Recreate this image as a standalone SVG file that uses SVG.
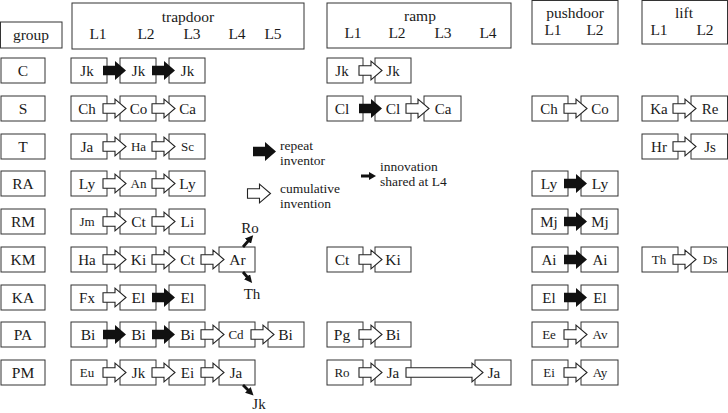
<svg xmlns="http://www.w3.org/2000/svg" xmlns:xlink="http://www.w3.org/1999/xlink" width="728" height="413" viewBox="0 0 728 413">
<style>
text{font-family:"Liberation Serif","Times New Roman",serif;fill:#1a1a1a;text-anchor:middle}
.h{font-size:15.5px}
.n{font-size:15px}
.s{font-size:13px}
.lg{font-size:13.5px;text-anchor:start}
rect{fill:#fff;stroke:#333;stroke-width:1}
.rep{fill:#111}
.cum{fill:#fff;stroke:#222;stroke-width:1.1}
.diag{stroke:#111;stroke-width:2.8;fill:none}
</style>
<defs>
<path id="ar" d="M0,-4.8 H12 V-9.4 L23,0 L12,9.4 V4.8 H0 Z"/>
<path id="arL" d="M0,-4.8 H66 V-9.4 L77,0 L66,9.4 V4.8 H0 Z"/>
<marker id="ah" viewBox="0 0 10 10" refX="2" refY="5" markerWidth="8" markerHeight="8" orient="auto" markerUnits="userSpaceOnUse"><path d="M0,0 L10,5 L0,10 Z" fill="#111"/></marker>
</defs>

<!-- headers -->
<g id="hdr-group"><rect x="0.5" y="22" width="61.5" height="26"/><text class="h" x="31" y="40">group</text></g>
<g id="hdr-trapdoor"><rect x="72" y="3" width="232" height="46"/><text class="h" x="188" y="22">trapdoor</text>
<text class="h" x="98" y="39">L1</text><text class="h" x="146" y="39">L2</text><text class="h" x="192" y="39">L3</text><text class="h" x="237" y="39">L4</text><text class="h" x="273" y="39">L5</text></g>
<g id="hdr-ramp"><rect x="327" y="3" width="184" height="45"/><text class="h" x="420" y="21">ramp</text>
<text class="h" x="353" y="38">L1</text><text class="h" x="397" y="38">L2</text><text class="h" x="443" y="38">L3</text><text class="h" x="488" y="38">L4</text></g>
<g id="hdr-pushdoor"><rect x="532" y="0.5" width="86" height="43.5"/><text class="h" x="575" y="18">pushdoor</text>
<text class="h" x="553" y="35">L1</text><text class="h" x="595" y="35">L2</text></g>
<g id="hdr-lift"><rect x="642" y="0.5" width="85.5" height="43.5"/><text class="h" x="684" y="18">lift</text>
<text class="h" x="659" y="35">L1</text><text class="h" x="705" y="35">L2</text></g>

<!-- group labels -->
<g id="grp-C"><rect x="1" y="58" width="44" height="25"/><text class="h" x="23" y="76">C</text></g>
<g id="grp-S"><rect x="1" y="96" width="44" height="25"/><text class="h" x="23" y="114">S</text></g>
<g id="grp-T"><rect x="1" y="134" width="44" height="25"/><text class="h" x="23" y="152">T</text></g>
<g id="grp-RA"><rect x="1" y="171" width="44" height="25"/><text class="h" x="23" y="189">RA</text></g>
<g id="grp-RM"><rect x="1" y="209" width="44" height="25"/><text class="h" x="23" y="227">RM</text></g>
<g id="grp-KM"><rect x="1" y="247" width="44" height="25"/><text class="h" x="23" y="265">KM</text></g>
<g id="grp-KA"><rect x="1" y="285" width="44" height="25"/><text class="h" x="23" y="303">KA</text></g>
<g id="grp-PA"><rect x="1" y="322" width="44" height="25"/><text class="h" x="23" y="340">PA</text></g>
<g id="grp-PM"><rect x="1" y="360" width="44" height="25"/><text class="h" x="23" y="378">PM</text></g>

<!-- trapdoor nodes -->
<g id="td-C1"><rect x="71" y="58" width="36" height="25"/><text class="n" x="87" y="75.5">Jk</text></g>
<g id="td-C2"><rect x="120" y="58" width="36" height="25"/><text class="n" x="138.5" y="75.5">Jk</text></g>
<g id="td-C3"><rect x="169" y="58" width="36" height="25"/><text class="n" x="187.5" y="75.5">Jk</text></g>

<g id="td-S1"><rect x="71" y="96" width="36" height="25"/><text class="n" x="87" y="113.5">Ch</text></g>
<g id="td-S2"><rect x="120" y="96" width="36" height="25"/><text class="n" x="138.5" y="113.5">Co</text></g>
<g id="td-S3"><rect x="169" y="96" width="36" height="25"/><text class="n" x="187.5" y="113.5">Ca</text></g>

<g id="td-T1"><rect x="71" y="134" width="36" height="25"/><text class="n" x="87" y="151.5">Ja</text></g>
<g id="td-T2"><rect x="120" y="134" width="36" height="25"/><text class="s" x="138.5" y="151">Ha</text></g>
<g id="td-T3"><rect x="169" y="134" width="36" height="25"/><text class="s" x="187.5" y="151">Sc</text></g>

<g id="td-RA1"><rect x="71" y="171" width="36" height="25"/><text class="h" x="87" y="188.5">Ly</text></g>
<g id="td-RA2"><rect x="120" y="171" width="36" height="25"/><text class="s" x="138.5" y="188">An</text></g>
<g id="td-RA3"><rect x="169" y="171" width="36" height="25"/><text class="h" x="187.5" y="188.5">Ly</text></g>

<g id="td-RM1"><rect x="71" y="209" width="36" height="25"/><text class="s" x="87" y="226">Jm</text></g>
<g id="td-RM2"><rect x="120" y="209" width="36" height="25"/><text class="h" x="138.5" y="226.5">Ct</text></g>
<g id="td-RM3"><rect x="169" y="209" width="36" height="25"/><text class="h" x="187.5" y="226.5">Li</text></g>

<g id="td-KM1"><rect x="71" y="247" width="36" height="25"/><text class="n" x="87" y="264.5">Ha</text></g>
<g id="td-KM2"><rect x="120" y="247" width="36" height="25"/><text class="h" x="138.5" y="264.5">Ki</text></g>
<g id="td-KM3"><rect x="169" y="247" width="36" height="25"/><text class="h" x="187.5" y="264.5">Ct</text></g>
<g id="td-KM4"><rect x="219" y="247" width="36" height="25"/><text class="h" x="237.5" y="264.5">Ar</text></g>
<g id="td-Ro"><text class="n" x="250" y="233">Ro</text></g>
<g id="td-Th"><text class="n" x="252" y="299">Th</text></g>

<g id="td-KA1"><rect x="71" y="285" width="36" height="25"/><text class="n" x="87" y="302.5">Fx</text></g>
<g id="td-KA2"><rect x="120" y="285" width="36" height="25"/><text class="h" x="138.5" y="302.5">El</text></g>
<g id="td-KA3"><rect x="169" y="285" width="36" height="25"/><text class="h" x="187.5" y="302.5">El</text></g>

<g id="td-PA1"><rect x="71" y="322" width="36" height="25"/><text class="h" x="88" y="339.5">Bi</text></g>
<g id="td-PA2"><rect x="120" y="322" width="36" height="25"/><text class="h" x="138.5" y="339.5">Bi</text></g>
<g id="td-PA3"><rect x="169" y="322" width="36" height="25"/><text class="h" x="187.5" y="339.5">Bi</text></g>
<g id="td-PA4"><rect x="219" y="322" width="36" height="25"/><text class="s" x="236" y="339">Cd</text></g>
<g id="td-PA5"><rect x="268" y="322" width="36" height="25"/><text class="h" x="285.5" y="339.5">Bi</text></g>

<g id="td-PM1"><rect x="71" y="360" width="36" height="25"/><text class="s" x="87" y="377">Eu</text></g>
<g id="td-PM2"><rect x="120" y="360" width="36" height="25"/><text class="n" x="138.5" y="377.5">Jk</text></g>
<g id="td-PM3"><rect x="169" y="360" width="36" height="25"/><text class="n" x="187.5" y="377.5">Ei</text></g>
<g id="td-PM4"><rect x="219" y="360" width="36" height="25"/><text class="n" x="236" y="377.5">Ja</text></g>
<g id="td-Jk"><text class="n" x="259" y="409">Jk</text></g>

<!-- ramp nodes -->
<g id="rp-C1"><rect x="327" y="58" width="36" height="25"/><text class="n" x="342" y="75.5">Jk</text></g>
<g id="rp-C2"><rect x="375" y="58" width="36" height="25"/><text class="n" x="393" y="75.5">Jk</text></g>
<g id="rp-S1"><rect x="327" y="96" width="36" height="25"/><text class="h" x="342" y="113.5">Cl</text></g>
<g id="rp-S2"><rect x="375" y="96" width="36" height="25"/><text class="h" x="393" y="113.5">Cl</text></g>
<g id="rp-S3"><rect x="424" y="96" width="37" height="25"/><text class="n" x="443" y="113.5">Ca</text></g>
<g id="rp-KM1"><rect x="327" y="247" width="36" height="25"/><text class="h" x="342" y="264.5">Ct</text></g>
<g id="rp-KM2"><rect x="375" y="247" width="36" height="25"/><text class="h" x="393" y="264.5">Ki</text></g>
<g id="rp-PA1"><rect x="327" y="322" width="36" height="25"/><text class="h" x="342" y="339.5">Pg</text></g>
<g id="rp-PA2"><rect x="375" y="322" width="36" height="25"/><text class="h" x="393" y="339.5">Bi</text></g>
<g id="rp-PM1"><rect x="327" y="360" width="36" height="25"/><text class="s" x="342" y="377">Ro</text></g>
<g id="rp-PM2"><rect x="375" y="360" width="36" height="25"/><text class="n" x="393" y="377.5">Ja</text></g>
<g id="rp-PM4"><rect x="475" y="360" width="36" height="25"/><text class="n" x="494" y="377.5">Ja</text></g>

<!-- pushdoor nodes -->
<g id="pd-S1"><rect x="532" y="96" width="36" height="25"/><text class="n" x="549" y="113.5">Ch</text></g>
<g id="pd-S2"><rect x="581" y="96" width="37" height="25"/><text class="n" x="600" y="113.5">Co</text></g>
<g id="pd-RA1"><rect x="532" y="171" width="36" height="25"/><text class="h" x="549" y="188.5">Ly</text></g>
<g id="pd-RA2"><rect x="581" y="171" width="37" height="25"/><text class="h" x="600" y="188.5">Ly</text></g>
<g id="pd-RM1"><rect x="532" y="209" width="36" height="25"/><text class="n" x="549" y="226.5">Mj</text></g>
<g id="pd-RM2"><rect x="581" y="209" width="37" height="25"/><text class="n" x="600" y="226.5">Mj</text></g>
<g id="pd-KM1"><rect x="532" y="247" width="36" height="25"/><text class="n" x="549" y="264.5">Ai</text></g>
<g id="pd-KM2"><rect x="581" y="247" width="37" height="25"/><text class="n" x="600" y="264.5">Ai</text></g>
<g id="pd-KA1"><rect x="532" y="285" width="36" height="25"/><text class="n" x="549" y="302.5">El</text></g>
<g id="pd-KA2"><rect x="581" y="285" width="37" height="25"/><text class="n" x="600" y="302.5">El</text></g>
<g id="pd-PA1"><rect x="532" y="322" width="36" height="25"/><text class="s" x="549" y="339">Ee</text></g>
<g id="pd-PA2"><rect x="581" y="322" width="37" height="25"/><text class="s" x="600" y="339">Av</text></g>
<g id="pd-PM1"><rect x="532" y="360" width="36" height="25"/><text class="s" x="549" y="377">Ei</text></g>
<g id="pd-PM2"><rect x="581" y="360" width="37" height="25"/><text class="s" x="600" y="377">Ay</text></g>

<!-- lift nodes -->
<g id="lf-S1"><rect x="642" y="96" width="36" height="25"/><text class="n" x="659" y="113.5">Ka</text></g>
<g id="lf-S2"><rect x="691" y="96" width="36.5" height="25"/><text class="n" x="710" y="113.5">Re</text></g>
<g id="lf-T1"><rect x="642" y="134" width="36" height="25"/><text class="n" x="659" y="151.5">Hr</text></g>
<g id="lf-T2"><rect x="691" y="134" width="36.5" height="25"/><text class="n" x="710" y="151.5">Js</text></g>
<g id="lf-KM1"><rect x="642" y="247" width="36" height="25"/><text class="s" x="659" y="264">Th</text></g>
<g id="lf-KM2"><rect x="691" y="247" width="36.5" height="25"/><text class="s" x="710" y="264">Ds</text></g>

<!-- legend -->
<g id="legend-repeat"><use xlink:href="#ar" href="#ar" class="rep" x="253" y="151.5"/><text class="lg" x="280" y="150">repeat</text><text class="lg" x="280" y="165">inventor</text></g>
<g id="legend-cumulative"><use xlink:href="#ar" href="#ar" class="cum" x="247.5" y="193.5"/><text class="lg" x="280" y="193">cumulative</text><text class="lg" x="280" y="208">invention</text></g>
<g id="legend-shared"><path class="rep" d="M361,174.5 H369 V172 L376,176 L369,180 V177.5 H361 Z"/><text class="lg" x="380" y="171">innovation</text><text class="lg" x="380" y="185.5">shared at L4</text></g>

<!-- connectors -->
<g id="connectors">
<!-- trapdoor -->
<use xlink:href="#ar" href="#ar" class="rep" x="103" y="70.5"/>
<use xlink:href="#ar" href="#ar" class="rep" x="152" y="70.5"/>
<use xlink:href="#ar" href="#ar" class="cum" x="103" y="108.5"/>
<use xlink:href="#ar" href="#ar" class="cum" x="152" y="108.5"/>
<use xlink:href="#ar" href="#ar" class="cum" x="103" y="146.5"/>
<use xlink:href="#ar" href="#ar" class="cum" x="152" y="146.5"/>
<use xlink:href="#ar" href="#ar" class="cum" x="103" y="183.5"/>
<use xlink:href="#ar" href="#ar" class="cum" x="152" y="183.5"/>
<use xlink:href="#ar" href="#ar" class="cum" x="103" y="221.5"/>
<use xlink:href="#ar" href="#ar" class="cum" x="152" y="221.5"/>
<use xlink:href="#ar" href="#ar" class="cum" x="103" y="259.5"/>
<use xlink:href="#ar" href="#ar" class="cum" x="152" y="259.5"/>
<use xlink:href="#ar" href="#ar" class="cum" x="201" y="259.5"/>
<use xlink:href="#ar" href="#ar" class="cum" x="103" y="297.5"/>
<use xlink:href="#ar" href="#ar" class="rep" x="152" y="297.5"/>
<use xlink:href="#ar" href="#ar" class="rep" x="103" y="334.5"/>
<use xlink:href="#ar" href="#ar" class="rep" x="152" y="334.5"/>
<use xlink:href="#ar" href="#ar" class="cum" x="201" y="334.5"/>
<use xlink:href="#ar" href="#ar" class="cum" x="251" y="334.5"/>
<use xlink:href="#ar" href="#ar" class="cum" x="103" y="372.5"/>
<use xlink:href="#ar" href="#ar" class="cum" x="152" y="372.5"/>
<use xlink:href="#ar" href="#ar" class="cum" x="201" y="372.5"/>
<line class="diag" x1="243" y1="247" x2="249" y2="240" marker-end="url(#ah)"/>
<line class="diag" x1="243" y1="272" x2="248" y2="278" marker-end="url(#ah)"/>
<line class="diag" x1="243" y1="385" x2="249" y2="391" marker-end="url(#ah)"/>
<!-- ramp -->
<use xlink:href="#ar" href="#ar" class="cum" x="359" y="70.5"/>
<use xlink:href="#ar" href="#ar" class="rep" x="359" y="108.5"/>
<use xlink:href="#ar" href="#ar" class="cum" x="406" y="108.5"/>
<use xlink:href="#ar" href="#ar" class="cum" x="359" y="259.5"/>
<use xlink:href="#ar" href="#ar" class="cum" x="359" y="334.5"/>
<use xlink:href="#ar" href="#ar" class="cum" x="359" y="372.5"/>
<use xlink:href="#arL" href="#arL" class="cum" x="406" y="372.5"/>
<!-- pushdoor -->
<use xlink:href="#ar" href="#ar" class="cum" x="564" y="108.5"/>
<use xlink:href="#ar" href="#ar" class="rep" x="564" y="183.5"/>
<use xlink:href="#ar" href="#ar" class="rep" x="564" y="221.5"/>
<use xlink:href="#ar" href="#ar" class="rep" x="564" y="259.5"/>
<use xlink:href="#ar" href="#ar" class="rep" x="564" y="297.5"/>
<use xlink:href="#ar" href="#ar" class="cum" x="564" y="334.5"/>
<use xlink:href="#ar" href="#ar" class="cum" x="564" y="372.5"/>
<!-- lift -->
<use xlink:href="#ar" href="#ar" class="cum" x="673" y="108.5"/>
<use xlink:href="#ar" href="#ar" class="cum" x="673" y="146.5"/>
<use xlink:href="#ar" href="#ar" class="cum" x="673" y="259.5"/>
</g>
</svg>
